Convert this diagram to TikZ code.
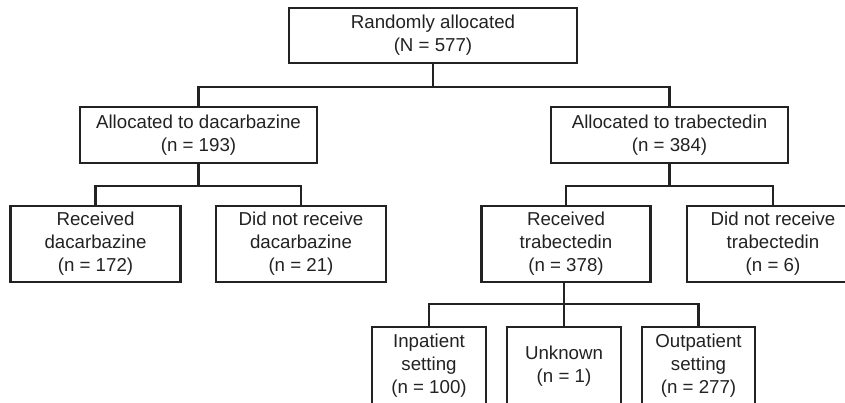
\documentclass[tikz,border=0pt]{standalone}
\usepackage{fontspec}
\setmainfont{Liberation Sans}
\definecolor{ink}{HTML}{222222}
\begin{document}
\begin{tikzpicture}[x=1pt,y=-1pt,
  box/.style={draw=ink, line width=2.1pt, inner sep=0pt, align=center,
    font=\fontsize{18.7}{23}\selectfont, text=ink},
  link/.style={draw=ink, line width=2.1pt}]
\useasboundingbox (0,0) rectangle (845,402);
\clip (0,0) rectangle (845,402);
\node[box, minimum width=288pt, minimum height=55pt] (top) at (433,35.5) {Randomly allocated\\(N = 577)};
\node[box, minimum width=237pt, minimum height=56pt] (dac) at (198.5,135) {Allocated to dacarbazine\\(n = 193)};
\node[box, minimum width=237pt, minimum height=56pt] (trab) at (669.5,135) {Allocated to trabectedin\\(n = 384)};
\node[box, minimum width=170pt, minimum height=76pt] (recdac) at (95.5,244) {Received\\dacarbazine\\(n = 172)};
\node[box, minimum width=170pt, minimum height=76pt] (notdac) at (301,244) {Did not receive\\dacarbazine\\(n = 21)};
\node[box, minimum width=169pt, minimum height=76pt] (rectrab) at (566,244) {Received\\trabectedin\\(n = 378)};
\node[box, minimum width=172pt, minimum height=76pt] (nottrab) at (773,244) {Did not receive\\trabectedin\\(n = 6)};
\node[box, minimum width=114pt, minimum height=78pt] (inpat) at (429,366) {Inpatient\\setting\\(n = 100)};
\node[box, minimum width=114pt, minimum height=78pt] (unk) at (564,366) {Unknown\\(n = 1)};
\node[box, minimum width=113pt, minimum height=78pt] (outpat) at (698.5,366) {Outpatient\\setting\\(n = 277)};
\coordinate (b1) at (433,87);
\coordinate (b2) at (198.5,186);
\coordinate (b3) at (669.5,186);
\coordinate (b4) at (564,304);
\draw[link] (top.south) -- (b1);
\draw[link] (dac.north) -- (dac.north |- b1) -- (trab.north |- b1) -- (trab.north);
\draw[link] (dac.south) -- (b2);
\draw[link] (recdac.north) -- (recdac.north |- b2) -- (notdac.north |- b2) -- (notdac.north);
\draw[link] (trab.south) -- (b3);
\draw[link] (rectrab.north) -- (rectrab.north |- b3) -- (nottrab.north |- b3) -- (nottrab.north);
\draw[link] ([xshift=-2pt]rectrab.south) -- (b4);
\draw[link] (inpat.north) -- (inpat.north |- b4) -- (outpat.north |- b4) -- (outpat.north);
\draw[link] (unk.north) -- (b4);
\end{tikzpicture}
\end{document}
